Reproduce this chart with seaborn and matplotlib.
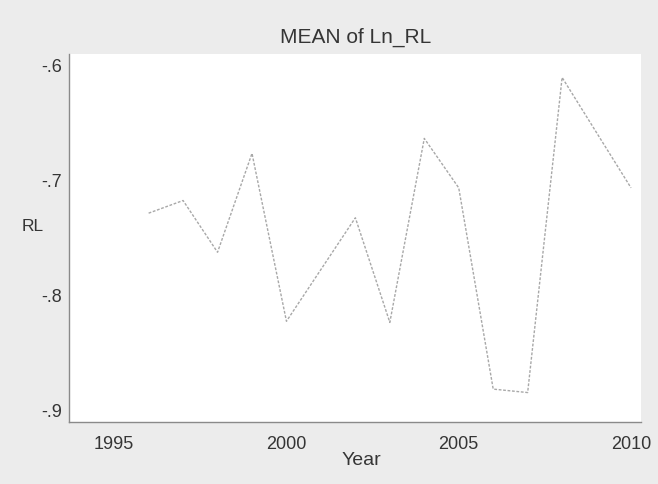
import matplotlib
matplotlib.use("Agg")
import matplotlib.pyplot as plt
import seaborn as sns
import numpy as np
import pandas as pd

# Mean of Ln_RL by year
years = [1996, 1997, 1998, 1999, 2000, 2001, 2002, 2003, 2004, 2005, 2006, 2007, 2008, 2009, 2010]
mean_rl = [-0.728, -0.717, -0.762, -0.676, -0.822, -0.777, -0.732, -0.823, -0.663,
           -0.706, -0.881, -0.884, -0.610, -0.658, -0.706]

x_ticks = [1995, 2000, 2005, 2010]
y_ticks = [-0.6, -0.7, -0.8, -0.9]
y_tick_labels = ["-.6", "-.7", "-.8", "-.9"]

df = pd.DataFrame({"Year": years, "RL": mean_rl})

sns.set_theme(style="white")
plt.rcParams["font.family"] = ["Liberation Sans", "DejaVu Sans"]

text_color = "#353535"
axis_color = "#8a8a8a"

fig = plt.figure(figsize=(6.58, 4.84), dpi=100)
fig.patch.set_facecolor("#ececec")
ax = fig.add_axes([0.1049, 0.1281, 0.8693, 0.7603])
ax.set_facecolor("white")

sns.lineplot(data=df, x="Year", y="RL", ax=ax, color="#a8a8a8",
             linewidth=1.0, linestyle=(0, (2.0, 1.2)))

ax.set_xlim(1993.69, 2010.29)
ax.set_ylim(-0.9096, -0.5896)
ax.set_xticks(x_ticks)
ax.set_xticklabels([str(t) for t in x_ticks])
ax.set_yticks(y_ticks)
ax.set_yticklabels(y_tick_labels)

for side in ("top", "right"):
    ax.spines[side].set_visible(False)
for side in ("left", "bottom"):
    ax.spines[side].set_color(axis_color)
    ax.spines[side].set_linewidth(1.0)

ax.tick_params(axis="both", which="major", direction="out", length=4, width=0.8,
               color=axis_color, labelcolor=text_color, labelsize=13)
ax.tick_params(axis="x", pad=6)
ax.tick_params(axis="y", pad=1)

ax.set_xlabel("Year", fontsize=14, color=text_color)
ax.xaxis.set_label_coords(0.511, -0.082)
ax.set_ylabel("RL", fontsize=12.5, color=text_color, rotation=0)
ax.yaxis.set_label_coords(-0.063, 0.51)

fig.text(0.54, 0.922, "MEAN of Ln_RL", ha="center", va="center",
         fontsize=15, color=text_color)

fig.savefig("out.png", dpi=100, facecolor=fig.get_facecolor())
